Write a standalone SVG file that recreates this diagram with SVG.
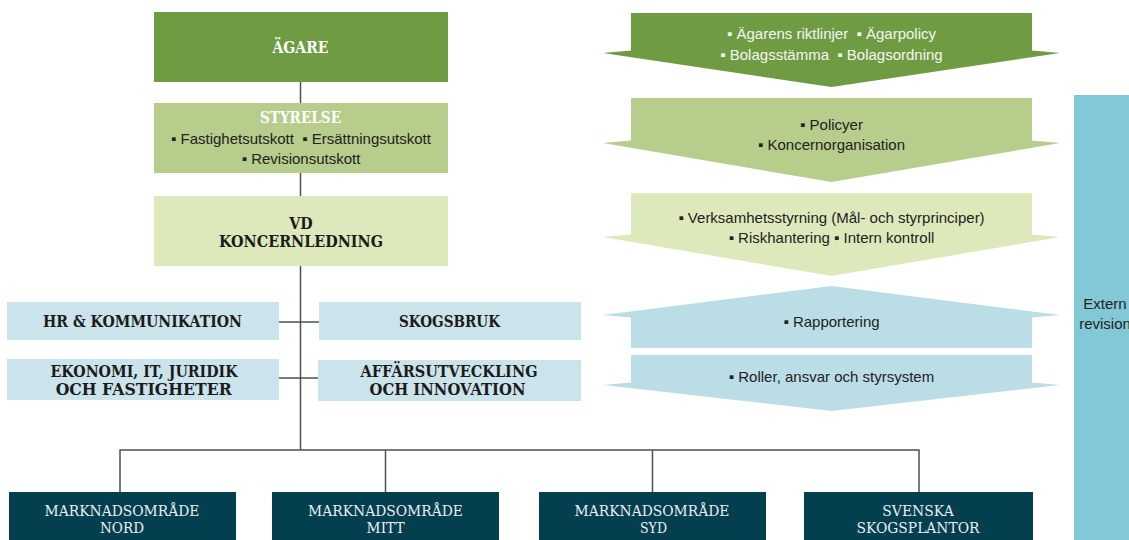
<svg xmlns="http://www.w3.org/2000/svg" width="1129" height="540" viewBox="0 0 1129 540">
  <style>
    .slab { font-family: "DejaVu Serif", "Liberation Serif", serif; }
    .hd { font-size: 17px; font-weight: bold; text-anchor: middle; }
    .hd-w { fill: #ffffff; }
    .hd-d { fill: #1b1b1b; }
    .unit { font-size: 15px; font-weight: normal; text-anchor: middle; fill: #e8eff1; }
    .sans { font-family: "Liberation Sans", "DejaVu Sans", sans-serif; font-size: 15px; text-anchor: middle; fill: #222222; }
    .sans-w { fill: #f4f7ee; }
    .line { stroke: #505050; stroke-width: 1.5; fill: none; }
    .g1 { fill: #6f9b43; }
    .g2 { fill: #b6cd8c; }
    .g3 { fill: #dde9ba; }
    .b1 { fill: #cbe3ea; }
    .b2 { fill: #badde6; }
    .b3 { fill: #83c8d7; }
    .teal { fill: #043f4f; }
  </style>

  <!-- organisation connectors -->
  <g id="connectors">
    <path class="line" d="M300.5 82 V103 M300.5 173 V196 M300.5 266 V450"/>
    <path class="line" d="M279 322 H319 M279 378 H318"/>
    <path class="line" d="M120 492 V450 H919 V492 M385.5 450 V492 M652.5 450 V492"/>
  </g>

  <!-- governance chain, left column -->
  <g id="agare">
    <rect class="g1" x="154" y="12" width="294" height="70"/>
    <text class="slab hd hd-w" x="300.5" y="53" textLength="56" lengthAdjust="spacingAndGlyphs">ÄGARE</text>
  </g>
  <g id="styrelse">
    <rect class="g2" x="154" y="103" width="294" height="70"/>
    <text class="slab hd hd-w" x="300.5" y="123" textLength="81" lengthAdjust="spacingAndGlyphs">STYRELSE</text>
    <text class="sans" x="301" y="144">▪ Fastighetsutskott&#160; ▪ Ersättningsutskott</text>
    <text class="sans" x="301" y="164">▪ Revisionsutskott</text>
  </g>
  <g id="vd">
    <rect class="g3" x="154" y="196" width="294" height="70"/>
    <text class="slab hd hd-d" x="301" y="229" textLength="23.5" lengthAdjust="spacingAndGlyphs">VD</text>
    <text class="slab hd hd-d" x="301" y="247" textLength="164" lengthAdjust="spacingAndGlyphs">KONCERNLEDNING</text>
  </g>

  <!-- staff functions -->
  <g id="hr">
    <rect class="b1" x="7" y="302" width="272" height="38"/>
    <text class="slab hd hd-d" x="142.5" y="327" textLength="199" lengthAdjust="spacingAndGlyphs">HR &amp; KOMMUNIKATION</text>
  </g>
  <g id="skogsbruk">
    <rect class="b1" x="319" y="302" width="262" height="38"/>
    <text class="slab hd hd-d" x="449.5" y="327" textLength="101" lengthAdjust="spacingAndGlyphs">SKOGSBRUK</text>
  </g>
  <g id="ekonomi">
    <rect class="b1" x="7" y="359" width="272" height="41"/>
    <text class="slab hd hd-d" x="144" y="377" textLength="187" lengthAdjust="spacingAndGlyphs">EKONOMI, IT, JURIDIK</text>
    <text class="slab hd hd-d" x="143.7" y="395" textLength="176" lengthAdjust="spacingAndGlyphs">OCH FASTIGHETER</text>
  </g>
  <g id="affarsutveckling">
    <rect class="b1" x="318" y="360" width="263" height="41"/>
    <text class="slab hd hd-d" x="449" y="377" textLength="177" lengthAdjust="spacingAndGlyphs">AFFÄRSUTVECKLING</text>
    <text class="slab hd hd-d" x="447.5" y="395" textLength="156" lengthAdjust="spacingAndGlyphs">OCH INNOVATION</text>
  </g>

  <!-- operating units -->
  <g id="nord">
    <rect class="teal" x="9" y="492" width="227" height="48"/>
    <text class="slab unit" x="122" y="516" textLength="155" lengthAdjust="spacingAndGlyphs">MARKNADSOMRÅDE</text>
    <text class="slab unit" x="122" y="533" textLength="44" lengthAdjust="spacingAndGlyphs">NORD</text>
  </g>
  <g id="mitt">
    <rect class="teal" x="272" y="492" width="227" height="48"/>
    <text class="slab unit" x="385.5" y="516" textLength="155" lengthAdjust="spacingAndGlyphs">MARKNADSOMRÅDE</text>
    <text class="slab unit" x="385.6" y="533" textLength="38" lengthAdjust="spacingAndGlyphs">MITT</text>
  </g>
  <g id="syd">
    <rect class="teal" x="539" y="492" width="227" height="48"/>
    <text class="slab unit" x="652" y="516" textLength="155" lengthAdjust="spacingAndGlyphs">MARKNADSOMRÅDE</text>
    <text class="slab unit" x="653.5" y="533" textLength="27" lengthAdjust="spacingAndGlyphs">SYD</text>
  </g>
  <g id="svenska-skogsplantor">
    <rect class="teal" x="804" y="492" width="229" height="48"/>
    <text class="slab unit" x="918" y="516" textLength="71.5" lengthAdjust="spacingAndGlyphs">SVENSKA</text>
    <text class="slab unit" x="918" y="533" textLength="123" lengthAdjust="spacingAndGlyphs">SKOGSPLANTOR</text>
  </g>

  <!-- steering instruments, right column -->
  <g id="styrning-agare">
    <polygon class="g1" points="631,13 1032,13 1032,50.5 1060,53 831.5,87 603,53 631,50.5"/>
    <text class="sans sans-w" x="831.5" y="38.5">▪ Ägarens riktlinjer&#160; ▪ Ägarpolicy</text>
    <text class="sans sans-w" x="831.5" y="59.5">▪ Bolagsstämma&#160; ▪ Bolagsordning</text>
  </g>
  <g id="styrning-styrelse">
    <polygon class="g2" points="631,98 1032,98 1032,140.5 1060,143 831.5,182 603,143 631,140.5"/>
    <text class="sans" x="831.5" y="129.5">▪ Policyer</text>
    <text class="sans" x="831.5" y="149.5">▪ Koncernorganisation</text>
  </g>
  <g id="styrning-vd">
    <polygon class="g3" points="631,193 1032,193 1032,234.5 1060,237 831.5,276 603,237 631,234.5"/>
    <text class="sans" x="831.5" y="222.5">▪ Verksamhetsstyrning (Mål- och styrprinciper)</text>
    <text class="sans" x="831.5" y="242.7">▪ Riskhantering ▪ Intern kontroll</text>
  </g>
  <g id="rapportering">
    <polygon class="b2" points="831.5,286 1060,315 1032,317.5 1032,348 631,348 631,317.5 603,315"/>
    <text class="sans" x="831.5" y="326.7">▪ Rapportering</text>
  </g>
  <g id="roller">
    <polygon class="b2" points="631,355 1032,355 1032,382.5 1060,385 831.5,411 603,385 631,382.5"/>
    <text class="sans" x="831.5" y="382.3">▪ Roller, ansvar och styrsystem</text>
  </g>

  <!-- external audit band -->
  <g id="extern-revision">
    <rect class="b3" x="1074" y="95" width="60" height="450"/>
    <text class="sans" x="1105" y="309">Extern</text>
    <text class="sans" x="1105" y="329">revision</text>
  </g>
</svg>
